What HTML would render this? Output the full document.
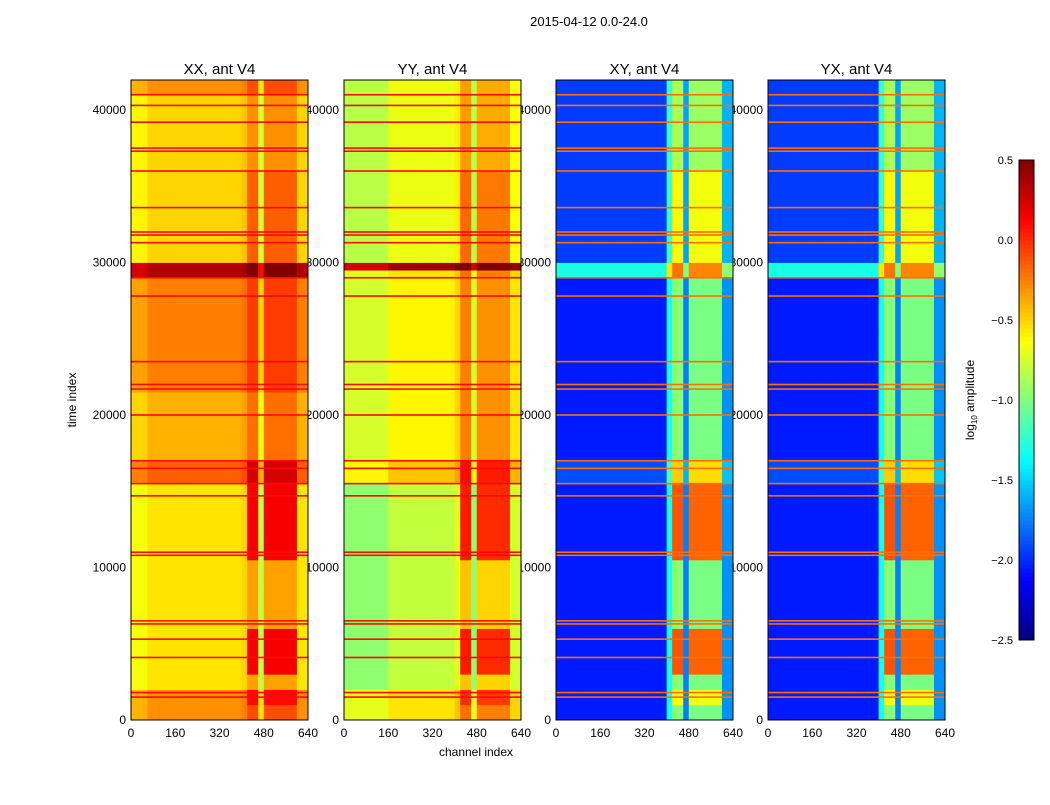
<!DOCTYPE html>
<html><head><meta charset="utf-8"><style>
body{margin:0;background:#fff;}
svg text{font-family:"Liberation Sans",sans-serif;}
</style></head><body>
<svg id="chart" width="1050" height="800" viewBox="0 0 1050 800" xmlns="http://www.w3.org/2000/svg">
<rect width="1050" height="800" fill="#fff"/>
<text x="589" y="26" font-size="13" text-anchor="middle">2015-04-12 0.0-24.0</text>
<g id="labels"></g>
<g id="panels"></g>
<text x="476" y="756" font-size="12" text-anchor="middle">channel index</text>
<text transform="translate(76,400) rotate(-90)" font-size="12" text-anchor="middle">time index</text>
<g id="cbar"></g>
<text transform="translate(974,400) rotate(-90)" font-size="12" text-anchor="middle">log<tspan font-size="8" dy="3">10</tspan><tspan dy="-3"> amplitude</tspan></text>
</svg>
<script>
const panelTitles=["XX, ant V4","YY, ant V4","XY, ant V4","YX, ant V4"];
const yTicks=[0,10000,20000,30000,40000];
const xTicks=[0,160,320,480,640];
const cbTicks=[0.5,0.0,-0.5,-1.0,-1.5,-2.0,-2.5];
const xxRows=[[0,2000,-0.3],[2000,15500,-0.55],[15500,17000,-0.15],[17000,21500,-0.4],[21500,29000,-0.25],[29000,30000,0.35],[30000,41000,-0.5],[41000,42000,-0.3]];
const yyRows=[[0,2000,-0.55],[2000,15500,-0.8],[15500,17000,-0.45],[17000,29000,-0.6],[29000,29300,-0.55],[29300,29800,0.4],[29800,30000,-0.55],[30000,42000,-0.68]];
const xyRows=[[0,15500,-2.05],[15500,17000,-1.9],[17000,28800,-2.05],[28800,30000,-1.3],[30000,42000,-1.95]];
const yxRows=[[0,15500,-2.05],[15500,17000,-1.9],[17000,28800,-2.05],[28800,30000,-1.3],[30000,42000,-1.95]];
const xxCols=[[0,60,-0.1],[60,400,0],[400,420,0.05],[420,470,0.15],[470,480,-0.25],[480,520,0.15],[520,530,-0.15],[530,560,0.15],[560,570,-0.15],[570,600,0.15],[600,640,0]];
const yyCols=[[0,160,-0.15],[160,400,0],[400,420,0.1],[420,470,0.3],[470,480,-0.15],[480,520,0.25],[520,530,-0.15],[530,560,0.25],[560,570,-0.15],[570,600,0.25],[600,640,0.05]];
const xyCols=[[0,400,0],[400,420,0.75],[420,470,1.0],[470,480,0.3],[480,520,0.95],[520,530,0.35],[530,560,0.95],[560,570,0.35],[570,600,0.95],[600,640,0.35]];
const burstRows=[[1000,2000,0.25],[3000,6000,0.55],[10500,15500,0.55],[15500,17000,0.25],[30000,36000,0.2]];
const burstCols=[[420,470,1],[480,520,1],[530,560,1],[570,600,1]];
const lineTimes=[1500,1800,4100,5300,6300,6500,10800,11000,14700,15500,16500,17000,20000,21700,22000,23500,27800,29000,31300,31800,32000,33600,36000,37300,37500,39200,40300,41000];
const lineVals=[0.1,0.1,-0.2,-0.2];
const panelRows=[xxRows,yyRows,xyRows,yxRows];
const panelCols=[xxCols,yyCols,xyCols,xyCols];
const burstGain=[1,1,1.7,1.7];
const panelX=[131,344,556,768], PW=177, PT=80, PB=720, tMax=41967, chMax=640;
const NS="http://www.w3.org/2000/svg";
function ty(t){return PB-(t/tMax)*(PB-PT);}
function cx(p,c){return panelX[p]+c/chMax*PW;}
function lookup(segs,v,def){for(const s of segs){if(v>=s[0]&&v<s[1])return s[2];}return def;}
function cl(x){return Math.max(0,Math.min(1,x));}
function jet(v){const t=cl((v+2.5)/3);const r=cl(1.5-Math.abs(4*t-3)),g=cl(1.5-Math.abs(4*t-2)),b=cl(1.5-Math.abs(4*t-1));return `rgb(${Math.round(r*255)},${Math.round(g*255)},${Math.round(b*255)})`;}
function el(tag,attrs,parent){const e=document.createElementNS(NS,tag);for(const k in attrs)e.setAttribute(k,attrs[k]);parent.appendChild(e);return e;}
const labels=document.getElementById('labels'), panels=document.getElementById('panels');
const tStep=500,cStep=20;
for(let p=0;p<4;p++){
  const t=el('text',{x:panelX[p]+PW/2,y:74,'font-size':15,'text-anchor':'middle'},labels);t.textContent=panelTitles[p];
  
  
  for(const v of yTicks){const tx=el('text',{x:panelX[p]-5,y:ty(v)+4,'font-size':12,'text-anchor':'end'},labels);tx.textContent=v;
    
    }
  for(const v of xTicks){const tx=el('text',{x:cx(p,v),y:737,'font-size':12,'text-anchor':'middle'},labels);tx.textContent=v;
    
    }
  const g=el('g',{},panels);
  
  
  for(let t0=0;t0<tMax;t0+=tStep){
    const rv=lookup(panelRows[p],t0+tStep/2,-0.5), br=lookup(burstRows,t0+tStep/2,0.05);
    const y1=ty(Math.min(t0+tStep,tMax)),y0=ty(t0);
    for(let c0=0;c0<chMax;c0+=cStep){
      const cv=lookup(panelCols[p],c0+cStep/2,0), bc=lookup(burstCols,c0+cStep/2,0);
      const v=rv+cv+br*bc*burstGain[p];
      const r=el('rect',{x:cx(p,c0).toFixed(2),y:y1.toFixed(2),width:(PW*cStep/chMax+0.4).toFixed(2),height:(y0-y1+0.4).toFixed(2),fill:jet(v)},g);
      
      
    }
  }
  for(const lt of lineTimes){const r=el('rect',{x:panelX[p],y:ty(lt)-0.8,width:PW,height:1.6,fill:jet(lineVals[p])},g);
    
    }
  const f=el('rect',{x:panelX[p],y:PT,width:PW,height:PB-PT,fill:'none',stroke:'#000','stroke-width':1},g);
  
  
}
const cb=document.getElementById('cbar');
const CBX=1019,CBW=15,CBT=160,CBB=640;
for(let i=0;i<120;i++){const v=-2.5+3*(i+0.5)/120;const y=CBB-(i+1)*(CBB-CBT)/120;
  const r=el('rect',{x:CBX,y:y.toFixed(2),width:CBW,height:((CBB-CBT)/120+0.5).toFixed(2),fill:jet(v)},cb);
  
  }
const cf=el('rect',{x:CBX,y:CBT,width:CBW,height:CBB-CBT,fill:'none',stroke:'#000'},cb);


for(const v of cbTicks){const y=CBB-(v+2.5)/3*(CBB-CBT);
  const tx=el('text',{x:1013,y:y+4,'font-size':11,'text-anchor':'end'},cb);tx.textContent=(v<0?'\u2212':'')+Math.abs(v).toFixed(1);
  
  }
</script>
</body></html>
